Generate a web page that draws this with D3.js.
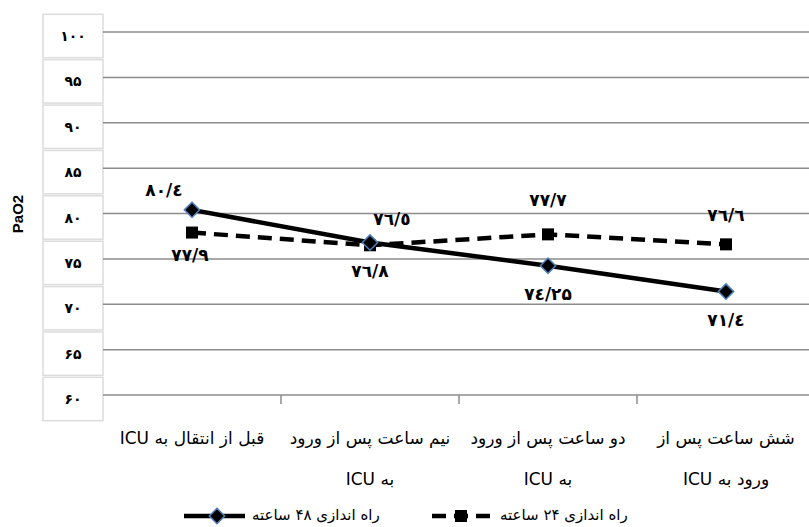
<!DOCTYPE html>
<html>
<head>
<meta charset="utf-8">
<script src="https://cdn.jsdelivr.net/npm/d3@7/dist/d3.min.js"></script>
<style>
    body { margin: 0; background: #fff; }
    text { font-family: "DejaVu Sans", sans-serif; }
</style>
</head>
<body>
<svg width="809" height="527"></svg>
<script type="text/javascript">
    var svg = d3.select("svg");

    // categories, two lines each
    var categories = [
        ["قبل از انتقال به ICU"],
        ["نیم ساعت پس از ورود", "به ICU"],
        ["دو ساعت پس از ورود", "به ICU"],
        ["شش ساعت پس از", "ورود به ICU"]
    ];
    var series48 = [80.4, 76.8, 74.25, 71.4];
    var series24 = [77.9, 76.5, 77.7, 76.6];
    var labels48 = ["۸۰/٤", "۷٦/۸", "۷٤/۲۵", "۷۱/٤"];
    var labels24 = ["۷۷/۹", "۷٦/٥", "۷۷/۷", "۷٦/٦"];
    var yTicks = [60, 65, 70, 75, 80, 85, 90, 95, 100];
    var yTickLabels = ["۶۰", "۶۵", "۷۰", "۷۵", "۸۰", "۸۵", "۹۰", "۹۵", "۱۰۰"];
    var legendNames = ["راه اندازی ۴۸ ساعته", "راه اندازی ۲۴ ساعته"];

    var plotLeft = 103, plotRight = 815, plotTop = 32, plotBottom = 395;
    var x = d3.scaleBand().domain(d3.range(categories.length)).range([plotLeft, plotRight]);
    var y = d3.scaleLinear().domain([60, 100]).range([plotBottom, plotTop]);
    var cx = function (i) { return x(i) + x.bandwidth() / 2; };
    var step = y(60) - y(65);

    // y label cells
    var cells = svg.append("g");
    cells.selectAll("rect")
            .data(yTicks)
            .enter()
            .append("rect")
            .attr("x", 43)
            .attr("y", function (d) { return y(d) - step / 2 + 5; })
            .attr("width", 60)
            .attr("height", step - 2)
            .attr("fill", "#fff")
            .attr("stroke", "#dcdcdc")
            .attr("stroke-width", 1.5);
    cells.selectAll("text")
            .data(yTicks)
            .enter()
            .append("text")
            .attr("x", 73)
            .attr("y", function (d) { return y(d) + 9; })
            .attr("text-anchor", "middle")
            .attr("font-size", 14)
            .attr("font-weight", "bold")
            .text(function (d, i) { return yTickLabels[i]; });

    // gridlines
    svg.append("g").selectAll("line")
            .data(yTicks)
            .enter()
            .append("line")
            .attr("x1", plotLeft)
            .attr("x2", plotRight)
            .attr("y1", function (d) { return y(d); })
            .attr("y2", function (d) { return y(d); })
            .attr("stroke", "#8c8c8c")
            .attr("stroke-width", 1.5);

    // x axis ticks
    svg.append("g").selectAll("line")
            .data(d3.range(1, categories.length))
            .enter()
            .append("line")
            .attr("x1", function (d) { return x(d); })
            .attr("x2", function (d) { return x(d); })
            .attr("y1", plotBottom)
            .attr("y2", plotBottom + 9)
            .attr("stroke", "#8c8c8c")
            .attr("stroke-width", 1.5);

    // category labels
    var cat = svg.append("g").selectAll("g")
            .data(categories)
            .enter()
            .append("g");
    cat.selectAll("text")
            .data(function (d, i) { return d.map(function (t) { return {t: t, i: i}; }); })
            .enter()
            .append("text")
            .attr("x", function (d) { return cx(d.i); })
            .attr("y", function (d, j) { return 444 + j * 41; })
            .attr("text-anchor", "middle")
            .attr("direction", "rtl")
            .attr("font-size", 17)
            .text(function (d) { return d.t; });

    // y title
    svg.append("text")
            .attr("transform", "translate(23,214) rotate(-90)")
            .attr("text-anchor", "middle")
            .style("font-family", "'Liberation Sans', Arial, sans-serif")
            .attr("font-size", 15)
            .attr("font-weight", "bold")
            .text("PaO2");

    var line = d3.line()
            .x(function (d, i) { return cx(i); })
            .y(function (d) { return y(d); });

    // 24h dashed series
    svg.append("path")
            .datum(series24)
            .attr("d", line)
            .attr("fill", "none")
            .attr("stroke", "#000")
            .attr("stroke-width", 4.5)
            .attr("stroke-dasharray", "14,8");
    svg.append("g").selectAll("rect")
            .data(series24)
            .enter()
            .append("rect")
            .attr("x", function (d, i) { return cx(i) - 6; })
            .attr("y", function (d) { return y(d) - 6; })
            .attr("width", 12)
            .attr("height", 12)
            .attr("fill", "#000");

    // 48h solid series
    svg.append("path")
            .datum(series48)
            .attr("d", line)
            .attr("fill", "none")
            .attr("stroke", "#000")
            .attr("stroke-width", 4.5);
    var diamond = d3.symbol().type(d3.symbolDiamond2).size(150);
    svg.append("g").selectAll("path")
            .data(series48)
            .enter()
            .append("path")
            .attr("d", diamond)
            .attr("transform", function (d, i) { return "translate(" + cx(i) + "," + y(d) + ")"; })
            .attr("fill", "#000")
            .attr("stroke", "#4f81bd")
            .attr("stroke-width", 1.5);

    // data labels
    var off48 = [[-28, -14], [0, 34], [0, 34], [0, 34]];
    var off24 = [[-2, 28], [22, -20], [0, -28], [0, -23]];
    svg.append("g").selectAll("text")
            .data(series48)
            .enter()
            .append("text")
            .attr("x", function (d, i) { return cx(i) + off48[i][0]; })
            .attr("y", function (d, i) { return y(d) + off48[i][1]; })
            .attr("text-anchor", "middle")
            .attr("font-size", 17)
            .attr("font-weight", "bold")
            .text(function (d, i) { return labels48[i]; });
    svg.append("g").selectAll("text")
            .data(series24)
            .enter()
            .append("text")
            .attr("x", function (d, i) { return cx(i) + off24[i][0]; })
            .attr("y", function (d, i) { return y(d) + off24[i][1]; })
            .attr("text-anchor", "middle")
            .attr("font-size", 17)
            .attr("font-weight", "bold")
            .text(function (d, i) { return labels24[i]; });

    // legend
    var ly = 516;
    var legend = svg.append("g");
    legend.append("line")
            .attr("x1", 184).attr("x2", 245).attr("y1", ly).attr("y2", ly)
            .attr("stroke", "#000").attr("stroke-width", 4.5);
    legend.append("path")
            .attr("d", diamond)
            .attr("transform", "translate(217," + ly + ")")
            .attr("fill", "#000").attr("stroke", "#4f81bd").attr("stroke-width", 1.5);
    legend.append("text")
            .attr("x", 252).attr("y", ly + 4)
            .attr("text-anchor", "start")
            .attr("font-size", 15)
            .text(legendNames[0]);
    legend.append("line")
            .attr("x1", 432).attr("x2", 493).attr("y1", ly).attr("y2", ly)
            .attr("stroke", "#000").attr("stroke-width", 4.5)
            .attr("stroke-dasharray", "14,8");
    legend.append("rect")
            .attr("x", 455).attr("y", ly - 6).attr("width", 12).attr("height", 12)
            .attr("fill", "#000");
    legend.append("text")
            .attr("x", 500).attr("y", ly + 4)
            .attr("text-anchor", "start")
            .attr("font-size", 15)
            .text(legendNames[1]);
</script>
</body>
</html>
